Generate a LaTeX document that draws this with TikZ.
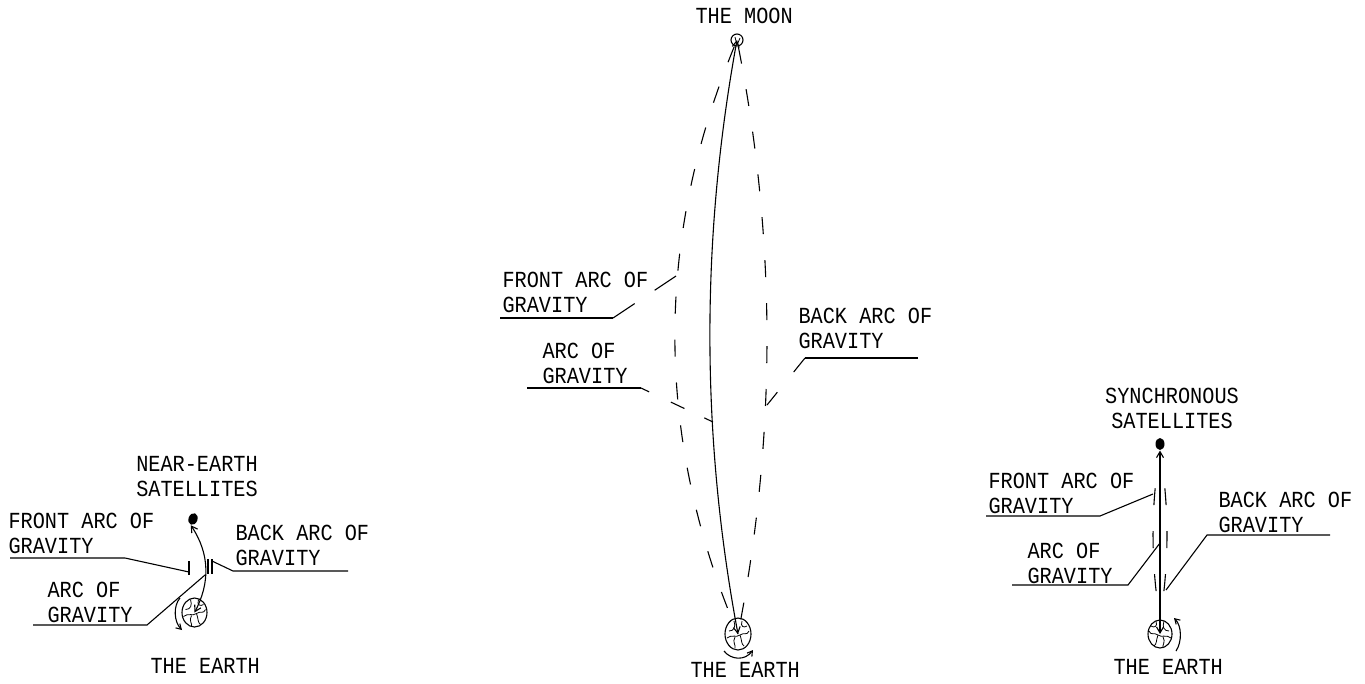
\documentclass[tikz,border=0pt]{standalone}
\usepackage{fontspec}
\newfontfamily\cadfont[FakeStretch=0.88]{Liberation Mono}
\usetikzlibrary{arrows.meta,shapes.geometric}
\begin{document}
\begin{tikzpicture}[x=1pt,y=-1pt,
  line width=1.1pt,
  lbl/.style={font=\cadfont\fontsize{23}{24.5}\selectfont, inner sep=0pt, anchor=north west, align=left},
  lblc/.style={lbl, anchor=north, align=center},
  earthshape/.style={draw, ellipse, inner sep=0pt, minimum width=25, minimum height=29},
  sat/.style={fill, ellipse, inner sep=0pt, minimum width=9, minimum height=12},
  barb/.tip={Straight Barb[length=6pt,width=7pt]},
  orbit/.style={barb-barb},
  spin/.style={-{Straight Barb[length=5pt,width=6pt]}},
  gdash/.style={dash pattern=on 17pt off 26pt},
  globe/.pic={
    \draw[line width=0.8pt]
      (-11,4) .. controls (-6,0) and (-2,4) .. (2,1)
              .. controls (6,-2) and (9,2) .. (11,-3);
    \draw[line width=0.8pt] (2,1) .. controls (4,6) and (3,10) .. (6,12);
    \draw[line width=0.8pt] (-4,-13) .. controls (-2,-7) and (-4,-3) .. (-9,-3);
    \draw[line width=0.8pt] (-3,3) .. controls (-6,8) and (-2,11) .. (-3,14);
    \draw[line width=0.8pt] (4,-13) .. controls (2,-7) and (6,-6) .. (9,-8);
  }
]
\useasboundingbox (0,0) rectangle (1365,683);

% ---------- near-earth satellites ----------
\node[earthshape] (E1) at (194.5,612.5) {};
\pic at (E1.center) {globe};
\node[sat, rotate=-20] (S1) at (193,519) {};
\draw[orbit] (E1.center) .. controls (210,583) and (210,554) .. (S1.south);
\draw[spin] (180,598) .. controls (173,606) and (174,622) .. (182,630);
% short arcs of gravity
\draw (189,561) -- (189,575);
\draw (208,559) -- (208,574);
\draw (212,559) -- (212,574);
% leaders
\coordinate (lf1) at (10,558);  \coordinate (lf2) at (125,558); \coordinate (lf3) at (189,572);
\coordinate (lb1) at (348,571); \coordinate (lb2) at (233,571); \coordinate (lb3) at (212,561);
\coordinate (la1) at (33,625);  \coordinate (la2) at (147,625); \coordinate (la3) at (205,575);
\draw (lf1) -- (lf2) -- (lf3);
\draw (lb1) -- (lb2) -- (lb3);
\draw (la1) -- (la2) -- (la3);
% labels
\node[lblc] (neLbl) at (197,456) {NEAR-EARTH\\SATELLITES};
\node[lbl] (lfLbl) at (8,513) {FRONT ARC OF\\GRAVITY};
\node[lbl] (lbLbl) at (235,525) {BACK ARC OF\\GRAVITY};
\node[lbl] (laLbl) at (47,582) {ARC OF\\GRAVITY};
\node[lbl] (leLbl) at (150,658) {THE EARTH};

% ---------- the moon ----------
\node[earthshape, minimum width=26, minimum height=32] (E2) at (738,634) {};
\pic at (E2.center) {globe};
\node[draw, circle, inner sep=0pt, minimum size=12] (moon) at (737,40) {};
\draw[line width=0.8pt] (737,45) -- (735,37) (737,45) -- (740,38);
\draw[orbit] (E2.center) .. controls (700.8,436) and (700.8,238) .. (moon.center);
\draw[gdash, dash phase=36pt] (moon.center) .. controls (654,238) and (654,436) .. (E2.center);
\draw[gdash, dash phase=36pt] (moon.center) .. controls (776.8,238) and (776.8,436) .. (E2.center);
\draw[spin] (724,651) .. controls (731,660) and (745,661) .. (753,650);
% leaders
\coordinate (mf1) at (500,318); \coordinate (mf2) at (613,318); \coordinate (mf3) at (676,276);
\coordinate (ma1) at (527,388); \coordinate (ma2) at (641,388); \coordinate (ma3) at (713,422);
\coordinate (mb1) at (918,358); \coordinate (mb2) at (805,358); \coordinate (mb3) at (767,405);
\draw (mf1) -- (mf2);
\draw[dash pattern=on 26pt off 24pt on 40pt off 10pt] (mf2) -- (mf3);
\draw (ma1) -- (ma2);
\draw[dash pattern=on 9pt off 24pt on 15pt off 22pt on 30pt off 10pt] (ma2) -- (ma3);
\draw (mb1) -- (mb2);
\draw[dash pattern=on 18pt off 26pt on 30pt off 10pt] (mb2) -- (mb3);
% labels
\node[lbl] (mmLbl) at (695,8) {THE MOON};
\node[lbl] (mfLbl) at (502,272) {FRONT ARC OF\\GRAVITY};
\node[lbl] (maLbl) at (542,343) {ARC OF\\GRAVITY};
\node[lbl] (mbLbl) at (798,308) {BACK ARC OF\\GRAVITY};
\node[lbl] (meLbl) at (690,662) {THE EARTH};

% ---------- synchronous satellites ----------
\node[earthshape, minimum width=24, minimum height=28] (E3) at (1160,634) {};
\pic[xscale=-1] at (E3.center) {globe};
\node[sat] (S3) at (1160,444) {};
\draw[orbit] (E3.center) -- (S3.south);
\draw[dash pattern=on 17pt off 26pt on 17pt off 26pt on 17pt off 60pt, dash phase=125pt]
  (S3.south) .. controls (1150.7,507) and (1150.7,563) .. (E3.north);
\draw[dash pattern=on 17pt off 26pt on 17pt off 26pt on 17pt off 60pt, dash phase=125pt]
  (S3.south) .. controls (1169.3,507) and (1169.3,563) .. (E3.north);
\draw[spin] (1176,651) .. controls (1182,642) and (1182,626) .. (1174,618);
% leaders
\coordinate (rf1) at (986,516);  \coordinate (rf2) at (1100,516); \coordinate (rf3) at (1153,494);
\coordinate (ra1) at (1012,585); \coordinate (ra2) at (1128,585); \coordinate (ra3) at (1160,543);
\coordinate (rb1) at (1330,535); \coordinate (rb2) at (1207,535); \coordinate (rb3) at (1166,590);
\draw (rf1) -- (rf2) -- (rf3);
\draw (ra1) -- (ra2) -- (ra3);
\draw (rb1) -- (rb2) -- (rb3);
% labels
\node[lblc] (rsLbl) at (1172,388) {SYNCHRONOUS\\SATELLITES};
\node[lbl] (rfLbl) at (988,473) {FRONT ARC OF\\GRAVITY};
\node[lbl] (raLbl) at (1027,543) {ARC OF\\GRAVITY};
\node[lbl] (rbLbl) at (1218,492) {BACK ARC OF\\GRAVITY};
\node[lbl] (reLbl) at (1113,659) {THE EARTH};
\end{tikzpicture}
\end{document}
